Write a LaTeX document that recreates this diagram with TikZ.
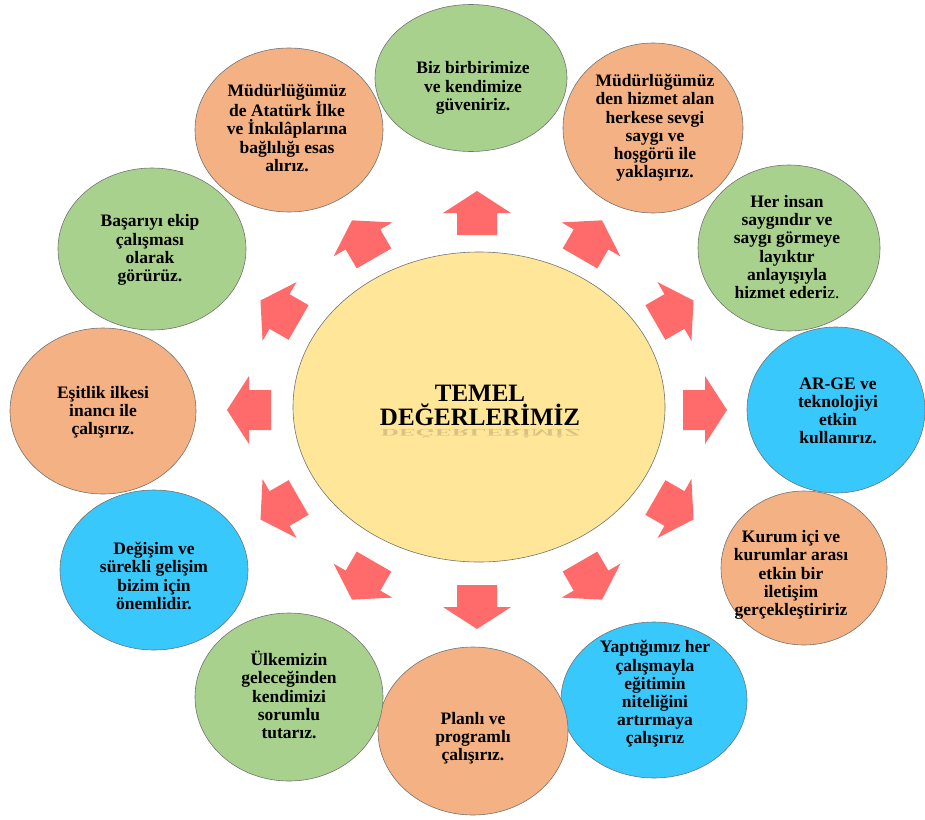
\documentclass[tikz,border=0pt]{standalone}
\usepackage{fontspec}
\setmainfont{Liberation Serif}
\usetikzlibrary{shapes.geometric}
\definecolor{cgreen}{HTML}{A9D18E}
\definecolor{corange}{HTML}{F4B183}
\definecolor{cblue}{HTML}{38C8FC}
\definecolor{cyellow}{HTML}{FFE699}
\definecolor{carrow}{HTML}{FF6B6B}
\tikzset{
  bub/.style={ellipse, draw=black!55, line width=0.6pt, inner sep=0pt},
  gbub/.style={bub, fill=cgreen},
  obub/.style={bub, fill=corange},
  bbub/.style={bub, fill=cblue},
  txt/.style={align=center, inner sep=0pt, font=\bfseries\fontsize{17.5}{18.2}\selectfont},
  blockarrow/.style={fill=carrow, draw=none},
}
\begin{document}
\begin{tikzpicture}[x=1pt,y=-1pt]
\useasboundingbox (0,0) rectangle (925,819);

% center
\node[bub, fill=cyellow, minimum width=372pt, minimum height=310pt] (c0) at (479,407) {};
\node[align=center, inner sep=0pt, font=\bfseries\fontsize{25}{24}\selectfont] (t0) at (480,405) {TEMEL\\DEĞERLERİMİZ};
\node[inner sep=0pt, font=\bfseries\fontsize{25}{24}\selectfont, text=black, opacity=0.15, yscale=-0.4] (r0) at (481,434) {DEĞERLERİMİZ};

% circles
\node[gbub, minimum width=192pt, minimum height=147pt] (c1) at (471,78) {};
\node[txt] at (473,88) {Biz birbirimize\\ve kendimize\\güveniriz.};

\node[obub, minimum width=188pt, minimum height=164pt] (c2) at (289,130) {};
\node[txt] at (287,128) {Müdürlüğümüz\\de Atatürk İlke\\ve İnkılâplarına\\bağlılığı esas\\alırız.};

\node[obub, minimum width=180pt, minimum height=170pt] (c3) at (653,128) {};
\node[txt] at (655,128) {Müdürlüğümüz\\den hizmet alan\\herkese sevgi\\saygı ve\\hoşgörü ile\\yaklaşırız.};

\node[gbub, minimum width=182pt, minimum height=166pt] (c4) at (789,248) {};
\node[txt] at (787,247) {Her insan\\saygındır ve\\saygı görmeye\\layıktır\\anlayışıyla\\hizmet ederi\textmd{z.}};

\node[bbub, minimum width=178pt, minimum height=166pt] (c5) at (836,410) {};
\node[txt] at (838,411) {AR-GE ve\\teknolojiyi\\etkin\\kullanırız.};

\node[obub, minimum width=166pt, minimum height=154pt] (c6) at (804,568) {};
\node[txt] at (791,575) {Kurum içi ve\\kurumlar arası\\etkin bir\\iletişim\\gerçekleştiririz};

\node[bbub, minimum width=186pt, minimum height=156pt] (c7) at (654,700) {};
\node[txt] at (655,694) {Yaptığımız her\\çalışmayla\\eğitimin\\niteliğini\\artırmaya\\çalışırız};

\node[obub, minimum width=190pt, minimum height=168pt] (c8) at (473,731) {};
\node[txt] at (473,738) {Planlı ve\\programlı\\çalışırız.};

\node[gbub, minimum width=188pt, minimum height=168pt] (c9) at (289,697) {};
\node[txt] at (289,695) {Ülkemizin\\geleceğinden\\kendimizi\\sorumlu\\tutarız.};

\node[bbub, minimum width=188pt, minimum height=160pt] (c10) at (154,570) {};
\node[txt] at (154,576) {Değişim ve\\sürekli gelişim\\bizim için\\önemlidir.};

\node[obub, minimum width=186pt, minimum height=166pt] (c11) at (103,411) {};
\node[txt] at (103,412) {Eşitlik ilkesi\\inancı ile\\çalışırız.};

\node[gbub, minimum width=188pt, minimum height=162pt] (c12) at (152,249) {};
\node[txt] at (150,250) {Başarıyı ekip\\çalışması\\olarak\\görürüz.};

% block arrows
\foreach \t in {90,60,30,0,-30,-60,-90,-120,-150,180,150,120}{
  \fill[blockarrow, shift={({477+228*cos(\t)},{410-197*sin(\t)})}, rotate=\t]
    (-22,-20) -- (0,-20) -- (0,-34) -- (22,0) -- (0,34) -- (0,20) -- (-22,20) -- cycle;
}
\end{tikzpicture}
\end{document}
